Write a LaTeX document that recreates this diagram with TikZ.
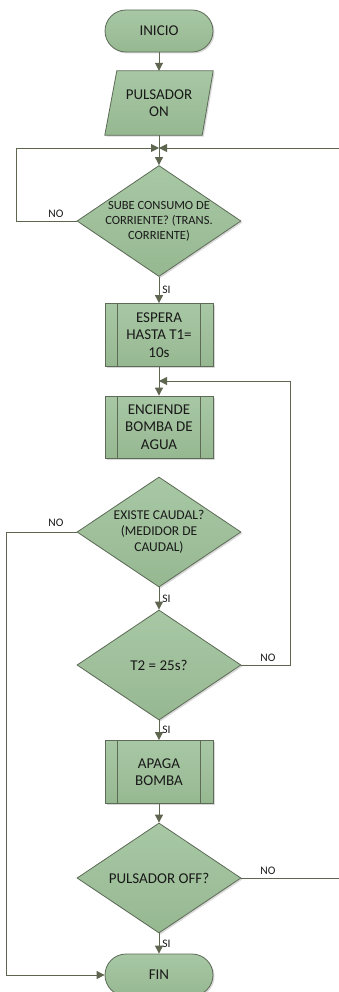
\documentclass[tikz,border=0pt]{standalone}
\usepackage{fontspec}
\setmainfont{Carlito}
\usetikzlibrary{shapes.geometric,shadows,backgrounds,arrows.meta}
\definecolor{fillA}{RGB}{168,200,165}
\definecolor{fillB}{RGB}{150,184,145}
\definecolor{edge}{RGB}{92,106,86}
\definecolor{wire}{RGB}{94,102,80}
\definecolor{txt}{RGB}{25,25,25}
\begin{document}
\begin{tikzpicture}[x=1pt,y=-1pt,
  shapebase/.style={draw=edge, line width=0.8pt, top color=fillA, bottom color=fillB,
     drop shadow={shadow xshift=1.5pt, shadow yshift=-1.5pt, opacity=0.25, fill=black!60}},
  bigtext/.style={font=\fontsize{15}{17.5}\selectfont, text=txt, align=center},
  term/.style={shapebase, bigtext, rectangle, rounded corners=21pt, minimum width=108pt, minimum height=42pt, inner sep=0pt},
  procbox/.style={shapebase, bigtext, rectangle, minimum width=108pt, minimum height=63pt, inner sep=0pt,
     path picture={
       \draw[edge, line width=0.8pt] ([xshift=12pt]path picture bounding box.north west) -- ([xshift=12pt]path picture bounding box.south west);
       \draw[edge, line width=0.8pt] ([xshift=-13pt]path picture bounding box.north east) -- ([xshift=-13pt]path picture bounding box.south east);}},
  decis/.style={shapebase, diamond, minimum width=164pt, minimum height=111pt, inner sep=0pt},
  wirearrow/.style={draw=wire, line width=0.9pt, -{Triangle[length=8pt,width=8pt]}},
  lab/.style={font=\fontsize{11.5}{13}\selectfont, text=txt, inner sep=0pt}
]
\useasboundingbox (0,0) rectangle (339,992);
\begin{scope}[on background layer]
\fill[white] (0,0) rectangle (339,992);
\end{scope}

\node[term] (inicio) at (159,31) {INICIO};
\node[bigtext, draw=none, minimum width=108pt, minimum height=64pt, inner sep=0pt] (pulsador) at (159,103) {PULSADOR\\ON};
\begin{scope}[on background layer]
\draw[shapebase] ([xshift=12pt]pulsador.north west) -- (pulsador.north east) -- ([xshift=-11pt]pulsador.south east) -- (pulsador.south west) -- cycle;
\end{scope}

\node[decis, label={[align=center, font=\fontsize{12.5}{15}\selectfont, text=txt]center:SUBE CONSUMO DE\\CORRIENTE? (TRANS.\\CORRIENTE)}] (d1) at (159,221) {};
\node[procbox] (espera) at (159,335) {ESPERA\\HASTA T1=\\10s};
\node[procbox, minimum height=62pt] (enciende) at (159,427) {ENCIENDE\\BOMBA DE\\AGUA};
\node[decis, minimum height=110pt, label={[align=center, font=\fontsize{13.5}{16}\selectfont, text=txt]center:EXISTE CAUDAL?\\(MEDIDOR DE\\CAUDAL)}] (d2) at (159,532) {};
\node[decis, minimum height=110pt, label={[bigtext]center:T2 = 25s?}] (d3) at (159,665) {};
\node[procbox] (apaga) at (159,772) {APAGA\\BOMBA};
\node[decis, minimum height=110pt, label={[bigtext]center:PULSADOR OFF?}] (d4) at (159,878) {};
\node[term] (fin) at (159,975) {FIN};

\coordinate (j1) at (159,148);
\coordinate (j2) at (159,381);
\coordinate (l1) at (16,221);
\coordinate (l2) at (6,532);
\coordinate (r3) at (290,665);
\coordinate (r4) at (341,878);
\coordinate (r4t) at (341,148);

\draw[wirearrow] (inicio.south) -- (pulsador.north);
\draw[wirearrow] (pulsador.south) -- (d1.north);
\draw[wirearrow] (d1.west) -- (l1) |- (j1);
\draw[wirearrow] (d4.east) -- (r4) -- (r4t) -- (j1);
\draw[wirearrow] (d1.south) -- node[lab, right=3pt, pos=0.5] {SI} (espera.north);
\draw[wirearrow] (espera.south) -- (enciende.north);
\draw[wirearrow] (d3.east) -- (r3) |- (j2);
\draw[wirearrow] (d2.south) -- node[lab, right=3pt, pos=0.5] {SI} (d3.north);
\draw[wirearrow] (d2.west) -- (l2) |- (fin.west);
\draw[wirearrow] (d3.south) -- node[lab, right=3pt, pos=0.5] {SI} (apaga.north);
\draw[wirearrow] (apaga.south) -- (d4.north);
\draw[wirearrow] (d4.south) -- node[lab, right=3pt, pos=0.5] {SI} (fin.north);

\node[lab] (no1) at (56,214) {NO};
\node[lab] (no2) at (56,523) {NO};
\node[lab] (no3) at (268,658) {NO};
\node[lab] (no4) at (268,871) {NO};
\end{tikzpicture}
\end{document}
